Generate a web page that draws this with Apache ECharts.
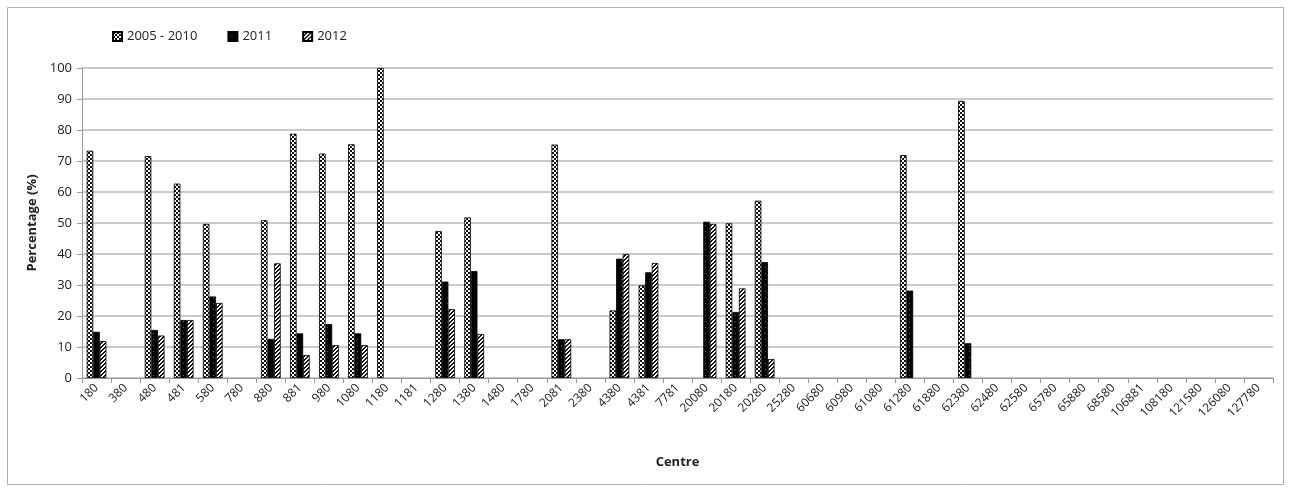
<!DOCTYPE html>
<html><head><meta charset="utf-8">
<script src="https://cdn.jsdelivr.net/npm/echarts@6/dist/echarts.min.js"></script>
<style>html,body{margin:0;padding:0;background:#fff}#c{width:1291px;height:490px}</style>
</head><body><div id="c"></div>
<script>
const categories = ['180','380','480','481','580','780','880','881','980','1080','1180','1181','1280','1380','1480','1780','2081','2380','4380','4381','7781','20080','20180','20280','25280','60680','60980','61080','61280','61880','62380','62480','62580','65780','65880','68580','106881','108180','121580','126080','127780'];
const s2005 = [73.3,null,71.6,62.7,49.7,null,50.9,78.8,72.4,75.4,100,null,47.4,51.8,null,null,75.3,null,21.8,29.9,null,null,49.9,57.2,null,null,null,null,71.9,null,89.4,null,null,null,null,null,null,null,null,null,null];
const s2011 = [14.9,null,15.5,18.7,26.3,null,12.6,14.4,17.4,14.4,null,null,31.1,34.5,null,null,12.5,null,38.5,34.1,null,50.4,21.3,37.4,null,null,null,null,28.2,null,11.2,null,null,null,null,null,null,null,null,null,null];
const s2012 = [11.9,null,13.7,18.7,24.2,null,37.0,7.4,10.6,10.6,null,null,22.2,14.2,null,null,12.5,null,40.0,37.1,null,49.7,28.9,6.1,null,null,null,null,null,null,null,null,null,null,null,null,null,null,null,null,null];
const seriesNames = ['2005 - 2010','2011','2012'];
const yTicks = [0,10,20,30,40,50,60,70,80,90,100];

function checker(){const c=document.createElement('canvas');c.width=4;c.height=4;const g=c.getContext('2d');g.fillStyle='#fff';g.fillRect(0,0,4,4);g.fillStyle='#111';g.fillRect(0,0,2,2);g.fillRect(2,2,2,2);return c;}
function hatch(){const c=document.createElement('canvas');c.width=4;c.height=4;const g=c.getContext('2d');g.fillStyle='#fff';g.fillRect(0,0,4,4);g.fillStyle='#111';for(let i=0;i<4;i++){g.fillRect(3-i,i,1,1);g.fillRect((3-i+1)%4,i,1,1);}return c;}
function solid(){const c=document.createElement('canvas');c.width=6;c.height=6;const g=c.getContext('2d');g.fillStyle='#000';g.fillRect(0,0,6,6);g.fillStyle='#666';g.fillRect(3,3,1,1);return c;}

const fills=[checker(),solid(),hatch()];
const datas=[s2005,s2011,s2012];
const font='"Open Sans", sans-serif';
const chart=echarts.init(document.getElementById('c'));
chart.setOption({
  animation:false,
  backgroundColor:'#fff',
  graphic:[{type:'rect',shape:{x:7.5,y:7.5,width:1276,height:477},style:{fill:'none',stroke:'#b0b0b0',lineWidth:1}}],
  legend:{left:107,top:25,itemWidth:9,itemHeight:9,itemGap:30,textStyle:{fontFamily:font,fontSize:13,color:'#222'},
    data:seriesNames.map(n=>({name:n,icon:'rect'}))},
  grid:{left:82,right:18,top:68,bottom:112},
  xAxis:{type:'category',data:categories,name:'Centre',nameLocation:'middle',nameGap:78,
    nameTextStyle:{fontFamily:font,fontSize:13,fontWeight:'bold',color:'#222'},
    axisLine:{lineStyle:{color:'#999'}},axisTick:{show:true,length:5,lineStyle:{color:'#999'}},
    axisLabel:{rotate:45,interval:0,fontFamily:font,fontSize:12,color:'#222',margin:8}},
  yAxis:{type:'value',min:0,max:100,interval:10,name:'Percentage (%)',nameLocation:'middle',nameGap:42,
    nameTextStyle:{fontFamily:font,fontSize:13,fontWeight:'bold',color:'#222'},
    axisLine:{show:true,lineStyle:{color:'#999'}},axisTick:{show:true,length:5,lineStyle:{color:'#999'}},
    splitLine:{lineStyle:{color:'#b8b8b8',width:1.5}},
    axisLabel:{fontFamily:font,fontSize:13,color:'#222',margin:10,formatter:v=>yTicks.includes(v)?String(v):''}},
  series:datas.map((d,i)=>({name:seriesNames[i],type:'bar',data:d,barGap:'0%',barCategoryGap:'32%',
    itemStyle:{color:{image:fills[i],repeat:'repeat'},borderColor:'#000',borderWidth:0.8}}))
});
</script></body></html>
